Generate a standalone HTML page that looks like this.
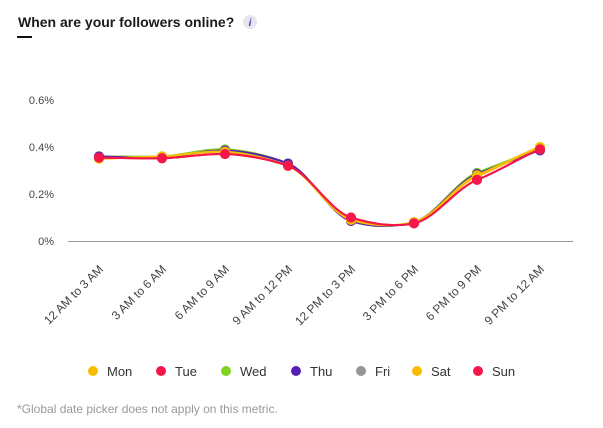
<!DOCTYPE html>
<html><head><meta charset="utf-8"><style>
body{margin:0;width:603px;height:423px;background:#fff;overflow:hidden;font-family:"Liberation Sans",sans-serif}
</style></head><body>
<svg width="603" height="423" xmlns="http://www.w3.org/2000/svg" font-family="Liberation Sans, sans-serif" id="s">
<text x="18" y="27" font-size="14" font-weight="bold" fill="#1a1a1a">When are your followers online?</text>
<circle cx="250" cy="22" r="7" fill="#e6e6ee"/>
<text x="250" y="26" font-size="10" font-style="italic" font-weight="bold" fill="#5a2fc2" text-anchor="middle">i</text>
<rect x="17" y="36" width="15" height="2" fill="#111"/>
<g font-size="11" fill="#444" text-anchor="end">
<text x="54" y="104">0.6%</text><text x="54" y="151">0.4%</text><text x="54" y="198">0.2%</text><text x="54" y="245">0%</text>
</g>
<line x1="68" y1="241.5" x2="573" y2="241.5" stroke="#999" stroke-width="1"/>
<g font-size="12" fill="#444" text-anchor="end">
<text transform="translate(104,270) rotate(-45)">12 AM to 3 AM</text>
<text transform="translate(167,270) rotate(-45)">3 AM to 6 AM</text>
<text transform="translate(230,270) rotate(-45)">6 AM to 9 AM</text>
<text transform="translate(293,270) rotate(-45)">9 AM to 12 PM</text>
<text transform="translate(356,270) rotate(-45)">12 PM to 3 PM</text>
<text transform="translate(419,270) rotate(-45)">3 PM to 6 PM</text>
<text transform="translate(482,270) rotate(-45)">6 PM to 9 PM</text>
<text transform="translate(545,270) rotate(-45)">9 PM to 12 AM</text>
</g>
<g id="series"></g>
<g font-size="13" fill="#333">
<circle cx="93" cy="371" r="5" fill="#f7be00"/><text x="107" y="376">Mon</text>
<circle cx="161" cy="371" r="5" fill="#f5174a"/><text x="175" y="376">Tue</text>
<circle cx="226" cy="371" r="5" fill="#7ed321"/><text x="240" y="376">Wed</text>
<circle cx="296" cy="371" r="5" fill="#5521b5"/><text x="310" y="376">Thu</text>
<circle cx="361" cy="371" r="5" fill="#959595"/><text x="375" y="376">Fri</text>
<circle cx="417" cy="371" r="5" fill="#f7be00"/><text x="431" y="376">Sat</text>
<circle cx="478" cy="371" r="5" fill="#f5174a"/><text x="492" y="376">Sun</text>
</g>
<text x="17" y="413" font-size="12" fill="#999">*Global date picker does not apply on this metric.</text>
</svg>
<script>
var xs=[99,162,225,288,351,414,477,540];
var S=[
["#959595",[.36,.36,.39,.325,.085,.08,.29,.39]],
["#7ed321",[.36,.36,.39,.33,.085,.08,.29,.39]],
["#5521b5",[.36,.355,.385,.33,.085,.08,.285,.385]],
["#f7be00",[.35,.36,.38,.32,.09,.08,.28,.40]],
["#f7be00",[.35,.36,.38,.32,.09,.08,.275,.40]],
["#f5174a",[.355,.352,.37,.32,.10,.075,.26,.39]],
["#f5174a",[.355,.352,.37,.32,.10,.075,.26,.39]]];
var g=document.getElementById('series'),h='';
S.forEach(function(s){var y=s[1].map(function(v){return 241-v*235});
var d='M'+xs[0]+','+y[0];
for(var i=0;i<7;i++){var p0=i>0?i-1:i,p3=i<6?i+2:i+1;
var k=9;
var c1x=xs[i]+(xs[i+1]-xs[p0])/6,c1y=y[i]+(y[i+1]-y[p0])/k,c2x=xs[i+1]-(xs[p3]-xs[i])/6,c2y=y[i+1]-(y[p3]-y[i])/k;
d+=' C'+c1x+','+c1y+' '+c2x+','+c2y+' '+xs[i+1]+','+y[i+1];}
h+='<path d="'+d+'" fill="none" stroke="'+s[0]+'" stroke-width="2"/>';
y.forEach(function(v,i){h+='<circle cx="'+xs[i]+'" cy="'+v+'" r="5" fill="'+s[0]+'"/>';});});
g.innerHTML=h;
</script>
</body></html>
